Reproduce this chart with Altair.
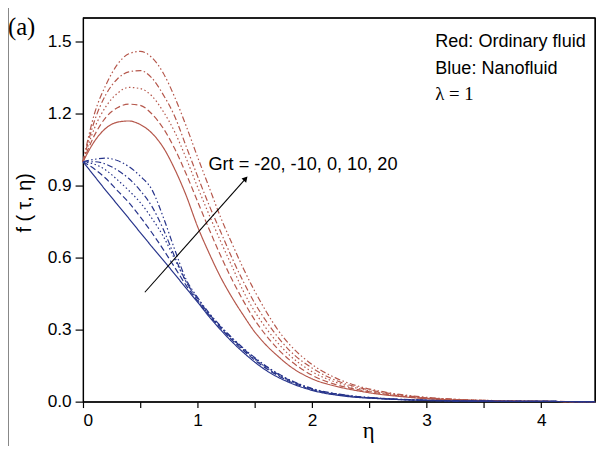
import altair as alt
import pandas as pd

# ---------------- data ----------------
eta_red = [0, 0.1, 0.2, 0.3, 0.4, 0.5, 0.6, 0.7, 0.8, 0.9, 1.0, 1.1, 1.2, 1.3, 1.4,
           1.5, 1.6, 1.7, 1.8, 2.0, 2.2, 2.4, 2.6, 2.8, 3.0, 3.3, 3.6, 4.0, 4.47]
red_m20 = [1.0, 1.085, 1.14, 1.165, 1.17, 1.155, 1.12, 1.06, 0.97, 0.86, 0.73, 0.62, 0.52,
           0.435, 0.36, 0.29, 0.235, 0.19, 0.15, 0.095, 0.065, 0.045, 0.03, 0.02, 0.012,
           0.006, 0.003, 0.001, 0.0]
red_m10 = [1.0, 1.11, 1.185, 1.225, 1.24, 1.235, 1.2, 1.14, 1.055, 0.95, 0.835, 0.72, 0.61,
           0.51, 0.42, 0.34, 0.275, 0.22, 0.175, 0.11, 0.072, 0.05, 0.034, 0.022, 0.014,
           0.007, 0.0035, 0.001, 0.0]
red_0 = [1.0, 1.14, 1.23, 1.285, 1.31, 1.305, 1.275, 1.21, 1.125, 1.015, 0.895, 0.78, 0.67,
         0.565, 0.46, 0.375, 0.305, 0.245, 0.195, 0.125, 0.082, 0.055, 0.037, 0.024, 0.015,
         0.008, 0.004, 0.001, 0.0]
red_10 = [1.0, 1.17, 1.28, 1.345, 1.375, 1.38, 1.35, 1.28, 1.19, 1.065, 0.94, 0.82, 0.71,
          0.6, 0.5, 0.41, 0.335, 0.27, 0.215, 0.14, 0.09, 0.06, 0.04, 0.026, 0.016,
          0.008, 0.004, 0.001, 0.0]
red_20 = [1.0, 1.2, 1.32, 1.405, 1.45, 1.46, 1.435, 1.37, 1.27, 1.15, 1.02, 0.895, 0.77,
          0.66, 0.555, 0.46, 0.375, 0.3, 0.24, 0.155, 0.1, 0.065, 0.043, 0.028, 0.018,
          0.009, 0.0045, 0.0015, 0.0]

eta_blue = [0, 0.1, 0.2, 0.3, 0.4, 0.5, 0.6, 0.7, 0.8, 0.9, 1.0, 1.1, 1.2, 1.4, 1.6,
            1.8, 2.0, 2.3, 2.6, 3.0, 3.5, 4.0, 4.47]
blue_m20 = [1.0, 0.94, 0.88, 0.822, 0.764, 0.705, 0.647, 0.59, 0.532, 0.473, 0.415, 0.355,
            0.30, 0.205, 0.13, 0.08, 0.047, 0.022, 0.012, 0.005, 0.002, 0.001, 0.0]
blue_m10 = [1.0, 0.97, 0.93, 0.88, 0.83, 0.77, 0.705, 0.635, 0.56, 0.485, 0.42, 0.36,
            0.307, 0.213, 0.138, 0.085, 0.05, 0.024, 0.013, 0.005, 0.002, 0.001, 0.0]
blue_0 = [1.0, 0.99, 0.965, 0.925, 0.88, 0.83, 0.765, 0.69, 0.595, 0.5, 0.425, 0.363,
          0.31, 0.217, 0.142, 0.088, 0.052, 0.025, 0.013, 0.005, 0.002, 0.001, 0.0]
blue_10 = [1.0, 1.0, 0.99, 0.965, 0.93, 0.88, 0.815, 0.72, 0.605, 0.5, 0.43, 0.366,
           0.313, 0.22, 0.145, 0.09, 0.053, 0.026, 0.014, 0.006, 0.002, 0.001, 0.0]
blue_20 = [1.0, 1.01, 1.015, 1.005, 0.98, 0.94, 0.885, 0.77, 0.635, 0.51, 0.435, 0.37,
           0.316, 0.223, 0.148, 0.092, 0.055, 0.027, 0.014, 0.006, 0.002, 0.001, 0.0]

x_domain = [0, 4.47]
y_domain = [0, 1.6]
x_ticks = [0, 0.5, 1, 1.5, 2, 2.5, 3, 3.5, 4]
y_ticks = [0, 0.15, 0.3, 0.45, 0.6, 0.75, 0.9, 1.05, 1.2, 1.35, 1.5]

arrow_start = [0.54, 0.456]
arrow_end = [1.42, 0.93]
grt_label = "Grt = -20, -10, 0, 10, 20"
grt_pos = [1.095, 0.99]
legend_lines = ["Red: Ordinary fluid", "Blue: Nanofluid"]
legend_pos = [[3.075, 1.497], [3.075, 1.386]]
lambda_label = "λ = 1"
lambda_pos = [3.075, 1.283]
panel_label = "(a)"
panel_pos = [-0.655, 1.563]
edge_line = [-0.655, 1.66, -0.2]   # x, y top, y bottom of the scan's left edge line

RED = "#b5574b"
BLUE = "#27348b"
W, H = 519, 389

# ---------------- build table ----------------
series_order = ["r-20", "r-10", "r0", "r10", "r20", "b-20", "b-10", "b0", "b10", "b20"]
rows = []
idx = 0
for name, vals in zip(series_order[:5], [red_m20, red_m10, red_0, red_10, red_20]):
    for e, v in zip(eta_red, vals):
        rows.append({"eta": e, "f": v, "series": name, "idx": idx})
        idx += 1
for name, vals in zip(series_order[5:10], [blue_m20, blue_m10, blue_0, blue_10, blue_20]):
    for e, v in zip(eta_blue, vals):
        rows.append({"eta": e, "f": v, "series": name, "idx": idx})
        idx += 1
df = pd.DataFrame(rows)

dashes = [[1, 0], [6, 3], [1.5, 2.5], [6, 2.5, 1.5, 2.5], [6, 2.5, 1.5, 2.5, 1.5, 2.5]]
dash_range = dashes + dashes
color_range = [RED] * 5 + [BLUE] * 5

x_scale = alt.Scale(domain=x_domain, nice=False, zero=False)
y_scale = alt.Scale(domain=y_domain, nice=False, zero=False)

x_axis = alt.Axis(
    values=x_ticks,
    labelExpr="datum.value % 1 == 0 ? format(datum.value, 'd') : ''",
    tickSize=6, grid=False, title="η", titleFont="Liberation Serif",
    titleFontSize=23, titleFontWeight="normal", titleX=289, titleY=29,
    titleBaseline="middle", labelFontSize=17.5, labelPadding=4,
    labelColor="black", tickColor="black", domainColor="black", titleColor="black",
    labelFont="Liberation Sans", domainWidth=1.2, tickWidth=1.2,
)
y_axis = alt.Axis(
    values=y_ticks,
    labelExpr="round(datum.value * 100) % 30 == 0 ? format(datum.value, '.1f') : ''",
    tickSize=8, grid=False, title="f ( τ, η)", titleFontSize=20,
    titleFontWeight="normal", titleAngle=270, titleX=-59, titleY=187,
    titleBaseline="middle", titleAlign="center", labelFontSize=17.5, labelPadding=4,
    labelColor="black", tickColor="black", domainColor="black", titleColor="black",
    labelFont="Liberation Sans", titleFont="Liberation Sans", domainWidth=1.2, tickWidth=1.2,
)

# top and right edges of the plot frame, placed on the scale domain
frame_df = pd.DataFrame({
    "x": [x_domain[0], x_domain[1]], "x2": [x_domain[1], x_domain[1]],
    "y": [y_domain[1], y_domain[1]], "y2": [y_domain[1], y_domain[0]],
})
frame = alt.Chart(frame_df).mark_rule(color="black", strokeWidth=1.3).encode(
    x=alt.X("x:Q", scale=x_scale, axis=x_axis), x2="x2:Q",
    y=alt.Y("y:Q", scale=y_scale, axis=y_axis), y2="y2:Q")

lines = alt.Chart(df).mark_line(strokeWidth=1.2, interpolate="monotone").encode(
    x=alt.X("eta:Q", scale=x_scale, axis=x_axis),
    y=alt.Y("f:Q", scale=y_scale, axis=y_axis),
    color=alt.Color("series:N", scale=alt.Scale(domain=series_order, range=color_range), legend=None),
    strokeDash=alt.StrokeDash("series:N", scale=alt.Scale(domain=series_order, range=dash_range), legend=None),
    detail="series:N",
    order=alt.Order("idx:Q"),
)

arrow_df = pd.DataFrame({"x": [arrow_start[0]], "y": [arrow_start[1]],
                         "x2": [arrow_end[0]], "y2": [arrow_end[1]]})
arrow_line = alt.Chart(arrow_df).mark_rule(color="black", strokeWidth=1.1).encode(
    x="x:Q", y="y:Q", x2="x2:Q", y2="y2:Q")
head_df = pd.DataFrame({"x": [arrow_end[0]], "y": [arrow_end[1]]})
arrow_head = alt.Chart(head_df).mark_point(shape="triangle-up", angle=42, filled=True,
                                           size=40, color="black", opacity=1).encode(
    x="x:Q", y="y:Q")

grt_df = pd.DataFrame({"x": [grt_pos[0]], "y": [grt_pos[1]], "t": [grt_label]})
grt_text = alt.Chart(grt_df).mark_text(align="left", baseline="middle", fontSize=18.4,
                                       font="Liberation Sans", color="black").encode(
    x="x:Q", y="y:Q", text="t:N")

leg_df = pd.DataFrame({"x": [p[0] for p in legend_pos], "y": [p[1] for p in legend_pos],
                       "t": legend_lines})
leg_text = alt.Chart(leg_df).mark_text(align="left", baseline="middle", fontSize=18.3,
                                       font="Liberation Sans", color="black").encode(
    x="x:Q", y="y:Q", text="t:N")

lam_df = pd.DataFrame({"x": [lambda_pos[0]], "y": [lambda_pos[1]], "t": [lambda_label]})
lam_text = alt.Chart(lam_df).mark_text(align="left", baseline="middle", fontSize=19,
                                       font="Liberation Serif", color="black").encode(
    x="x:Q", y="y:Q", text="t:N")

a_df = pd.DataFrame({"x": [panel_pos[0]], "y": [panel_pos[1]], "t": [panel_label]})
a_text = alt.Chart(a_df).mark_text(align="left", baseline="middle", fontSize=25,
                                   font="Liberation Serif", color="black").encode(
    x="x:Q", y="y:Q", text="t:N")

edge_df = pd.DataFrame({"x": [edge_line[0]], "y": [edge_line[1]], "y2": [edge_line[2]]})
edge = alt.Chart(edge_df).mark_rule(color="#222222", strokeWidth=1.2).encode(
    x="x:Q", y="y:Q", y2="y2:Q")

chart = alt.layer(frame, lines, arrow_line, arrow_head, grt_text, leg_text, lam_text,
                  a_text, edge).properties(
    width=W, height=H,
    autosize=alt.AutoSizeParams(type="none"),
    padding={"left": 76, "top": 7, "right": 5, "bottom": 42},
).configure_view(stroke="black", strokeWidth=1.2)

chart.save("out.html", embed_options={"renderer": "svg", "actions": False})
